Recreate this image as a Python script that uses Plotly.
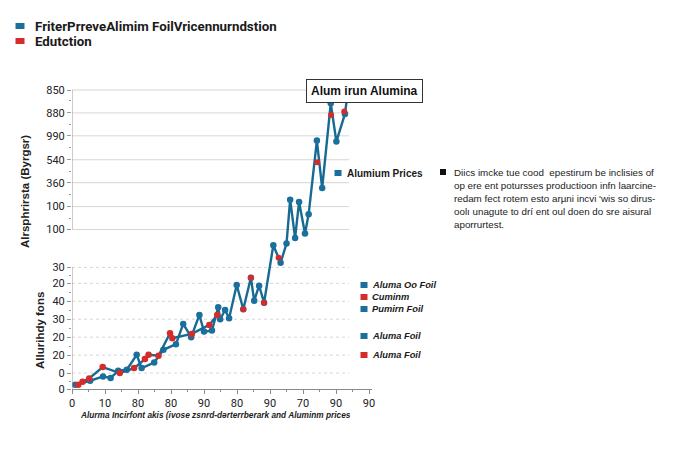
import plotly.graph_objects as go

# ---------------- data (axis units) ----------------
line_a_x = [0.9, 5.5, 9.4, 11.7, 14.0, 16.6, 19.6, 21.1, 24.9, 27.7, 31.5, 33.7, 36.1, 38.6, 40.0,
            42.4, 44.3, 44.9, 46.4, 47.6, 49.9, 51.9, 54.2, 55.2, 56.7, 58.2, 61.0, 63.2, 65.0,
            66.1, 67.6, 68.8, 70.6, 71.7, 74.2, 75.8, 78.4, 80.1, 82.7, 83.6]
line_a_y = [4.3, 8.3, 12.6, 11, 18.3, 19.3, 34.3, 21, 26.6, 39.3, 45, 65.3, 52, 74.3, 57.6,
            58.6, 82, 70, 79.3, 71, 104.3, 80, 111.6, 88.6, 103.6, 86.6, 144.3, 126.6, 146,
            190, 151.6, 187.6, 156, 175.3, 249.3, 201.6, 286.6, 248.3, 276, 299]

line_b_x = [1.9, 3.2, 5.2, 9.3, 14.5, 18.8, 22.1, 23.2, 26.2, 29.7, 30.4, 36.3, 41.6, 44.0]
line_b_y = [4.3, 7.3, 10.6, 22, 16, 21, 30, 34.3, 33.3, 56, 51, 55.3, 64.3, 74.3]

red_pts_x = [51.9, 54.2, 58.2, 62.6, 74.3, 78.5, 82.5]
red_pts_y = [80, 111.6, 86.6, 131.6, 227.6, 275, 278.3]

x_tick_vals = [0, 10, 20, 30, 40, 50, 60, 70, 80, 90]
x_tick_text = ["0", "10", "80", "80", "90", "80", "90", "70", "90", "90"]

y_tick_vals = [0, 16, 34, 52, 70, 88, 106, 122, 160, 183, 207, 230, 254, 277, 300]
y_tick_text = ["0", "0", "20", "20", "30", "40", "20", "30",
               "100", "100", "360", "540", "990", "880", "850"]

legend_items = ["Aluma Oo Foil", "Cuminm", "Pumirn Foil", "Aluma Foil", "Aluma Foil"]
legend_colors = ["blue", "red", "blue", "blue", "red"]

note_lines = [
    "Diics imcke tue cood  epestirum be inclisies of",
    "op ere ent potursses productioon infn laarcine-",
    "redam fect rotem esto arµni incvi 'wis so dirus-",
    "oolı unagute to drí ent oul doen do sre aisural",
    "aporrurtest.",
]

BLUE = "#1b6f9c"
LINE = "#176a93"
RED = "#d42b2b"
FONT = "Liberation Sans, Arial, sans-serif"
BFONT = "Roboto, Liberation Sans, Arial, sans-serif"

W, H = 682, 452
L, T, PW, PH = 72, 89, 300, 300


def px(x):
    return (x - L) / PW


def py(y):
    return (T + PH - y) / PH


fig = go.Figure()
fig.add_trace(go.Scatter(x=line_a_x, y=line_a_y, mode="lines+markers",
                         line=dict(color=LINE, width=2.4),
                         marker=dict(color=BLUE, size=6.5), showlegend=False))
fig.add_trace(go.Scatter(x=line_b_x, y=line_b_y, mode="lines+markers",
                         line=dict(color=LINE, width=2.4),
                         marker=dict(color=RED, size=6.5), showlegend=False))
fig.add_trace(go.Scatter(x=red_pts_x, y=red_pts_y, mode="markers",
                         marker=dict(color=RED, size=6), showlegend=False))

shapes = []
# gridlines
for v in y_tick_vals[1:]:
    shapes.append(dict(type="line", xref="x", yref="y", x0=0, x1=84, y0=v, y1=v,
                       line=dict(color="#d6d6d6", width=1,
                                 dash="solid" if v >= 150 else "dot"),
                       layer="below"))
# broken y axis line
shapes.append(dict(type="line", xref="x", yref="y", x0=0, x1=0, y0=0, y1=122,
                   line=dict(color="#9a9a9a", width=1)))
shapes.append(dict(type="line", xref="x", yref="y", x0=0, x1=0, y0=160, y1=300,
                   line=dict(color="#9a9a9a", width=1)))


def square(xc, yc, color, w=8, h=6):
    shapes.append(dict(type="rect", xref="paper", yref="paper",
                       x0=px(xc - w / 2), x1=px(xc + w / 2),
                       y0=py(yc + h / 2), y1=py(yc - h / 2),
                       fillcolor=color, line=dict(width=0)))


ann = []


def text(x, y, s, size=11, bold=False, italic=False, color="#222", xanchor="left",
         family=FONT, **kw):
    if bold:
        s = "<b>" + s + "</b>"
    if italic:
        s = "<i>" + s + "</i>"
    ann.append(dict(x=px(x), y=py(y), xref="paper", yref="paper", text=s, showarrow=False,
                    xanchor=xanchor, yanchor="middle",
                    font=dict(size=size, color=color, family=family), **kw))


# top legend
square(20, 26, BLUE, 9, 6)
text(33, 26, "FriterPrreveAlimim FoilVricennurndstion", size=13.3, bold=True,
     color="#1a1a1a", family=BFONT)
square(20, 41, RED, 9, 6)
text(33, 41, "Edutction", size=13.3, bold=True, color="#1a1a1a", family=BFONT)

# boxed label
ann.append(dict(x=px(364.5), y=py(90.5), xref="paper", yref="paper",
                text="<b>Alum irun Alumina</b>", showarrow=False,
                xanchor="center", yanchor="middle", bgcolor="white",
                bordercolor="#333", borderwidth=1, borderpad=4,
                font=dict(size=12, color="#111", family=FONT)))

# Alumium Prices
square(338, 173, BLUE, 7, 6)
text(345, 173, "Alumium Prices", size=10, bold=True, color="#1a1a1a")

# note block
square(443, 172, "#111", 6, 6)
for i, ln in enumerate(note_lines):
    text(452, 172 + i * 13, ln, size=9.8, color="#222")

# lower legend
leg_y = [285, 297, 309, 336, 355]
for name, c, yy in zip(legend_items, legend_colors, leg_y):
    square(364, yy, BLUE if c == "blue" else RED, 7, 6)
    text(370, yy, name, size=9.3, bold=True, italic=True, color="#1a1a1a")

# axis titles
ann.append(dict(x=px(25), y=py(192), xref="paper", yref="paper",
                text="<b>Alrsphrirsta (Byrgsr)</b>", textangle=-90, showarrow=False,
                xanchor="center", yanchor="middle",
                font=dict(size=11.5, color="#222", family=FONT)))
ann.append(dict(x=px(40), y=py(331), xref="paper", yref="paper",
                text="<b>Allurihdy fons</b>", textangle=-90, showarrow=False,
                xanchor="center", yanchor="middle",
                font=dict(size=11.5, color="#222", family=FONT)))
text(215, 415, "Alurma Incirfont akis (ivose zsnrd-dərterrberark and Aluminm prices",
     size=8.3, bold=True, italic=True, color="#222", xanchor="center")

fig.update_layout(
    width=W, height=H,
    margin=dict(l=L, r=W - L - PW, t=T, b=H - T - PH),
    paper_bgcolor="white", plot_bgcolor="white",
    shapes=shapes, annotations=ann,
    xaxis=dict(range=[0, 90.9], tickmode="array", tickvals=x_tick_vals, ticktext=x_tick_text,
               showgrid=False, zeroline=False, showline=True, linecolor="#8a8a8a",
               ticks="outside", ticklen=4, tickcolor="#8a8a8a",
               minor=dict(tickvals=[5, 15, 25, 35, 45, 55, 65, 75, 85], ticklen=2,
                          tickcolor="#8a8a8a", ticks="outside"),
               tickfont=dict(size=11, color="#222", family=BFONT)),
    yaxis=dict(range=[0, 301], tickmode="array", tickvals=y_tick_vals, ticktext=y_tick_text,
               showgrid=False, zeroline=False, showline=False,
               ticks="outside", ticklen=4, tickcolor="#9a9a9a",
               minor=dict(tickvals=[8, 25, 43, 61, 79, 97, 114, 171, 195, 218, 242, 265, 289],
                          ticklen=2, tickcolor="#9a9a9a", ticks="outside"),
               tickfont=dict(size=11, color="#222", family=BFONT)),
)

fig.write_html("out.html", config={"displayModeBar": False},
               post_script="document.body.style.margin='0';")
